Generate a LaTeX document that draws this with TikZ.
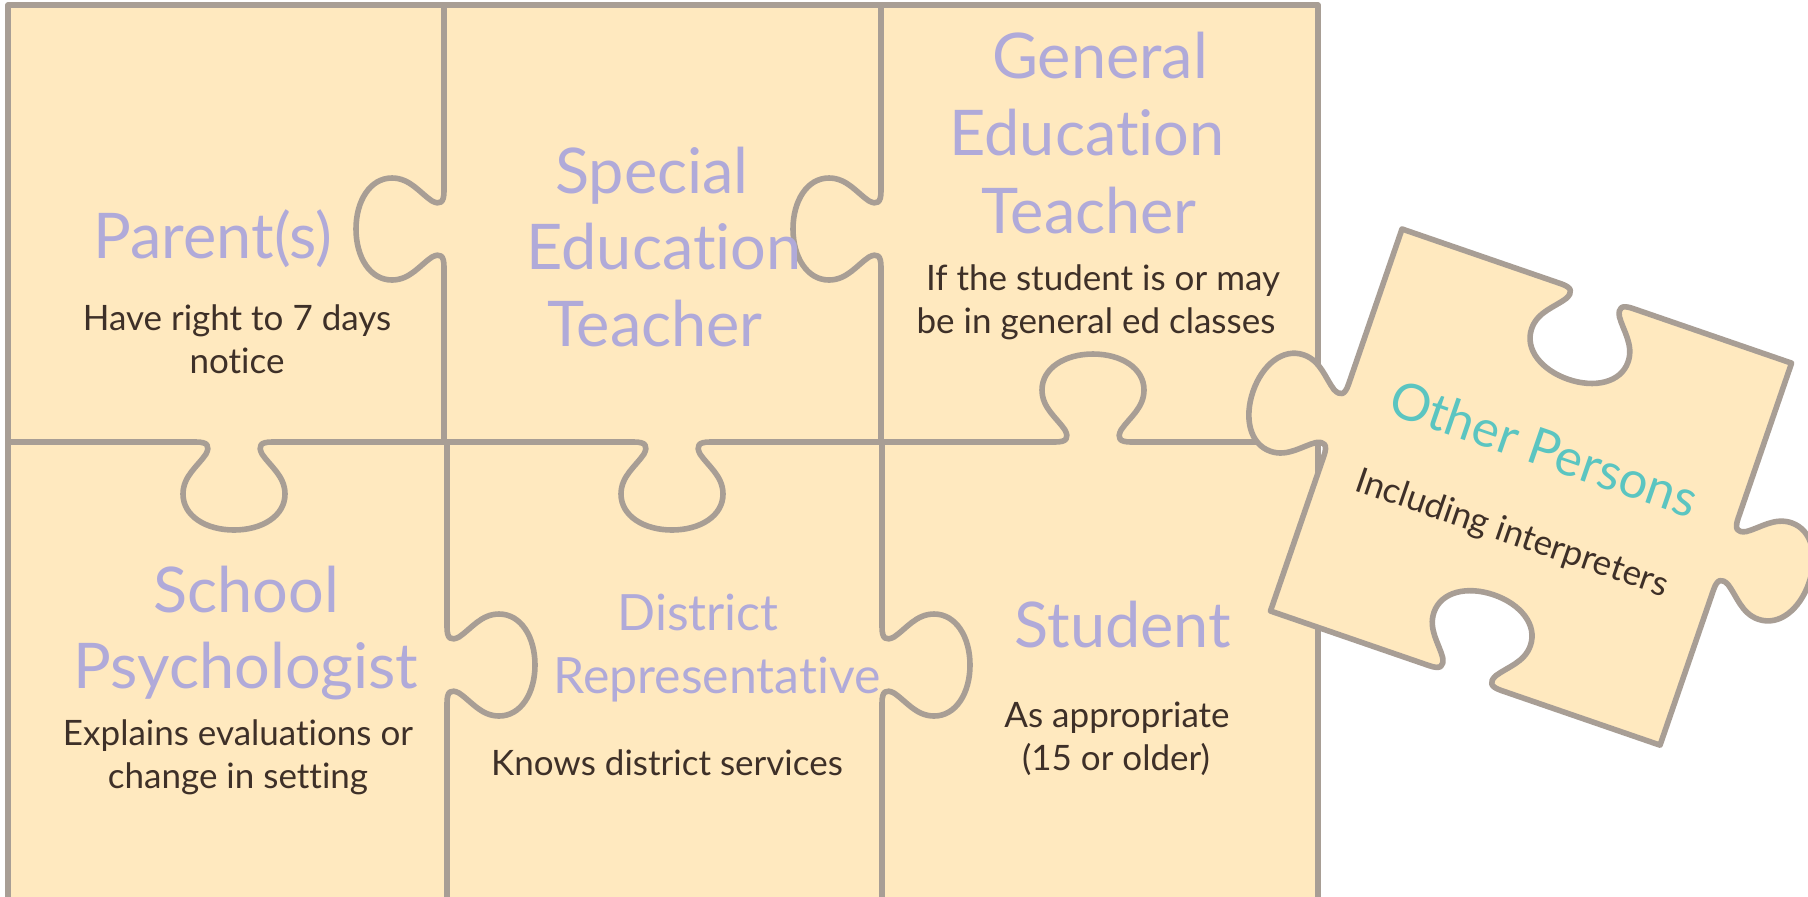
\documentclass[tikz,border=0pt]{standalone}
\usepackage{fontspec}
\setmainfont{Lato}[Ligatures={NoCommon,NoContextual}]
\definecolor{fillC}{HTML}{FFE9BF}
\definecolor{lineC}{HTML}{A89E95}
\definecolor{ttlC}{HTML}{B0AAD9}
\definecolor{subC}{HTML}{3E3028}
\definecolor{tealC}{HTML}{5BC5C1}
\newcommand\tabshape{-- (-38,0) .. controls (-26,0) and (-24,-4) .. (-28,-12) .. controls (-36,-24) and (-51,-34) .. (-51,-52) .. controls (-51,-74) and (-28,-88) .. (0,-88) .. controls (28,-88) and (51,-74) .. (51,-52) .. controls (51,-34) and (36,-24) .. (28,-12) .. controls (24,-4) and (26,0) .. (38,0)}
\newcommand\tI{t\kern0pt i}
\tikzset{
  edge/.style={draw=lineC, line width=2.8pt, line join=round, line cap=round},
  ttl/.style={text=ttlC, font=\fontsize{31.5}{36}\selectfont, anchor=base, inner sep=0pt},
  ttlsmall/.style={text=ttlC, font=\fontsize{25}{30}\selectfont, anchor=base, inner sep=0pt},
  sub/.style={text=subC, font=\fontsize{17.5}{21}\selectfont, anchor=base, inner sep=0pt},
  other/.style={text=tealC, font=\fontsize{25.5}{30}\selectfont, anchor=center, inner sep=0pt, rotate=-19},
  othersub/.style={text=subC, font=\fontsize{17.5}{21}\selectfont, anchor=center, inner sep=0pt, rotate=-19}
}
\begin{document}
\begin{tikzpicture}[x=0.5pt,y=-0.5pt]
\useasboundingbox (0,0) rectangle (1808,896);
\clip (0,0) rectangle (1808,896);
\fill[white] (0,0) rectangle (1808,896);
% grid
\fill[fillC] (8,5) rectangle (1318,930);
\draw[edge] (8,442) {[shift={(234,442)}, yscale=-1] \tabshape} -- (444,442)
  {[shift={(672,442)}, yscale=-1] \tabshape} -- (882,442)
  {[shift={(1093,442)}] \tabshape} -- (1318,442);
\draw[edge] (444,5) {[shift={(444,229)}, rotate=-90, yscale=-1] \tabshape} -- (444,442);
\draw[edge] (881,5) {[shift={(881,229)}, rotate=-90, yscale=-1] \tabshape} -- (881,442);
\draw[edge] (447,442) {[shift={(447,665)}, rotate=-90] \tabshape} -- (447,930);
\draw[edge] (882,442) {[shift={(882,665)}, rotate=-90] \tabshape} -- (882,930);
\draw[edge] (8,5) rectangle (1318,930);
% texts
\node[ttl] (parent) at (213,258) {Parent(s)};
\node[sub] (parent1) at (237,330) {Have right to 7 days};
\node[sub] (parent2) at (237,373) {no\tI ce};
\node[ttl] (spec1) at (652,193) {Special};
\node[ttl] (spec2) at (664,269) {Educa\tI on};
\node[ttl] (spec3) at (655,346) {Teacher};
\node[ttl] (gen1) at (1100,78) {General};
\node[ttl] (gen2) at (1087,155) {Educa\tI on};
\node[ttl] (gen3) at (1089,233) {Teacher};
\node[sub] (gensub1) at (1103,290) {If the student is or may};
\node[sub] (gensub2) at (1096,333) {be in general ed classes};
\node[ttl] (psy1) at (246,612) {School};
\node[ttl] (psy2) at (246,688) {Psychologist};
\node[sub] (psysub1) at (238,745) {Explains evalua\tI ons or};
\node[sub] (psysub2) at (238,788) {change in set\tI ng};
\node[ttlsmall] (dist1) at (698,630) {District};
\node[ttlsmall] (dist2) at (717,693) {Representa\tI ve};
\node[sub] (distsub) at (667,775) {Knows district services};
\node[ttl] (stud) at (1123,647) {Student};
\node[sub] (studsub1) at (1117,727) {As appropriate};
\node[sub] (studsub2) at (1116,770) {(15 or older)};
% loose piece
\begin{scope}[shift={(1402,229)}, rotate=-19]
\filldraw[edge, fill=fillC] (0,0) {[shift={(206,0)}, yscale=-1] \tabshape} -- (412,0)
  {[shift={(412,202)}, rotate=-90] \tabshape} -- (412,404)
  {[shift={(206,404)}, rotate=180, yscale=-1] \tabshape} -- (0,404)
  {[shift={(0,202)}, rotate=90] \tabshape} -- cycle;
\node[other] (oth) at (206,161) {Other Persons};
\node[othersub] (othsub) at (203,253) {Including interpreters};
\end{scope}
\end{tikzpicture}
\end{document}
